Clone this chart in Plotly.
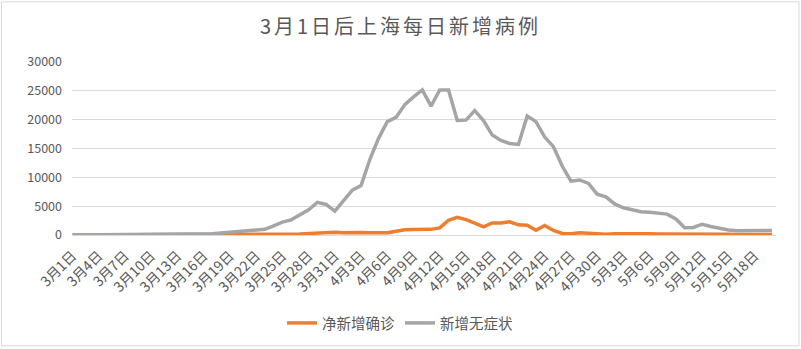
import pandas as pd
import plotly.graph_objects as go

# categories: every day from 3月1日 to 5月20日
dates = [f"{d.month}月{d.day}日" for d in pd.date_range("2022-03-01", "2022-05-20")]

# 净新增确诊 (net new confirmed)
confirmed = [
    1, 3, 2, 3, 0, 3, 4, 3, 4, 11, 5, 1, 41, 9, 5, 8, 57,          # 3/1-3/17
    8, 17, 24, 31, 4, 4, 60, 120, 150, 180, 250,                    # 3/18-3/28
    450, 500, 480, 400, 450, 430, 380, 400, 380,                    # 3/29-4/6
    650, 900, 950, 950, 980, 1240, 2550, 3070, 2670,                # 4/7-4/15
    2070, 1410, 2100, 2100, 2280, 1760, 1690, 830, 1640, 780,       # 4/16-4/25
    260, 210, 380, 310, 140,                                        # 4/26-4/30
    150, 200, 230, 220, 200, 210, 190, 200, 180, 170,               # 5/1-5/10
    150, 160, 140, 130, 110, 100, 100, 110, 100, 100,               # 5/11-5/20
]

# 新增无症状 (new asymptomatic)
asymptomatic = [
    1, 5, 14, 16, 28, 45, 51, 62, 76, 64, 78, 64, 128, 130, 197, 150, 203,   # 3/1-3/17
    366, 492, 734, 865, 977, 979, 1580, 2231, 2631, 3450, 4381,             # 3/18-3/28
    5656, 5298, 4144, 6051, 7788, 8581, 13086, 16766, 19660,               # 3/29-4/6
    20398, 22609, 23937, 25173, 22348, 25141, 25146, 19872, 19923,         # 4/7-4/15
    21582, 19831, 17332, 16407, 15861, 15698, 20634, 19657, 16983, 15319,  # 4/16-4/25
    11956, 9330, 9545, 8932, 7084,                                         # 4/26-4/30
    6606, 5395, 4722, 4390, 4024, 3961, 3760, 3625, 2780, 1259,            # 5/1-5/10
    1305, 1869, 1487, 1203, 869, 746, 787, 719, 770, 784,                  # 5/11-5/20
]

tick_labels = dates[::3]
y_ticks = [0, 5000, 10000, 15000, 20000, 25000, 30000]

series_names = ["净新增确诊", "新增无症状"]
colors = ["#ED7D31", "#A5A5A5"]

FONT = "Noto Sans CJK SC, Noto Sans, sans-serif"
TXT = "#595959"

fig = go.Figure()
for name, vals, col in zip(series_names, [confirmed, asymptomatic], colors):
    fig.add_trace(go.Scatter(
        x=dates, y=vals, name=name, mode="lines",
        line=dict(color=col, width=3.5),
    ))

fig.update_layout(
    width=801, height=349,
    margin=dict(l=72, r=25, t=62, b=113),
    paper_bgcolor="white", plot_bgcolor="white",
    font=dict(family=FONT, color=TXT),
    title=dict(
        text='<span style="letter-spacing:3px">3月1日后上海每日新增病例</span>',
        x=0.5, xref="container", xanchor="center",
        y=1 - 27 / 349, yref="container", yanchor="middle",
        font=dict(family=FONT, size=20, color=TXT),
    ),
    xaxis=dict(
        type="category",
        categoryorder="array", categoryarray=dates,
        range=[-0.057, 80.45],
        tickmode="array", tickvals=tick_labels, ticktext=tick_labels,
        tickangle=-45,
        tickfont=dict(family=FONT, size=14, color=TXT),
        ticklabelstandoff=6,
        showgrid=False, showline=True, linecolor="#D9D9D9", linewidth=1,
        ticks="", zeroline=False,
    ),
    yaxis=dict(
        range=[0, 30000],
        tickmode="array", tickvals=y_ticks, ticktext=[str(v) for v in y_ticks],
        tickfont=dict(family=FONT, size=12.5, color=TXT),
        showgrid=True, gridcolor="#D9D9D9", gridwidth=1,
        zeroline=False, showline=False, ticks="",
        ticklabelstandoff=9,
    ),
    legend=dict(
        orientation="h",
        x=(400 - 72) / 704, xanchor="center",
        y=-(323 - 236) / 174, yanchor="middle",
        font=dict(family=FONT, size=14.5, color=TXT),
        bgcolor="rgba(0,0,0,0)",
    ),
    showlegend=True,
)

# light chart border like the original
fig.add_shape(
    type="rect", xref="paper", yref="paper",
    x0=(1.5 - 72) / 704, x1=(799 - 72) / 704,
    y0=(236 - 347.5) / 174, y1=(236 - 1.5) / 174,
    line=dict(color="#D9D9D9", width=1), fillcolor="rgba(0,0,0,0)",
    layer="below",
)

fig.write_html("out.html")
